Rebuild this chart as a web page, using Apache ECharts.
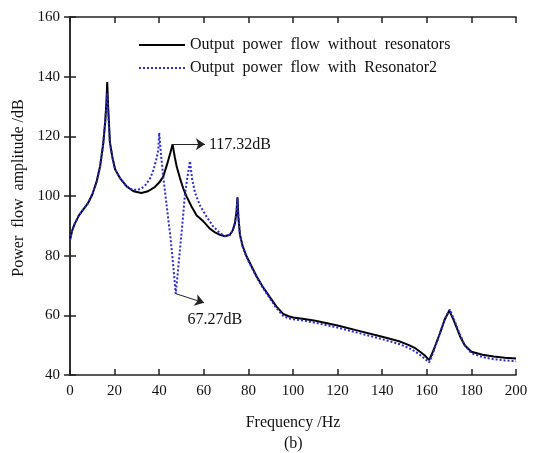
<!DOCTYPE html>
<html style="height: 100%">
   <head>
       <meta charset="utf-8">
   </head>
   <body style="height: 100%; margin: 0; background: #fff">
       <div id="container" style="width: 541px; height: 453px"></div>
       <script type="text/javascript" src="https://cdn.jsdelivr.net/npm/echarts@6/dist/echarts.min.js"></script>
       <script type="text/javascript">
// curve without resonators (black)
var freqA = [0, 1, 2, 4, 6, 8, 10, 12, 13.5, 14.9, 15.8, 16.3, 16.7, 17.1, 17.9, 19, 20.2, 22.4, 25.4, 28.5,
    32, 35, 38, 40, 41.8, 43.5, 45, 46, 47, 47.8, 49.3, 50.8, 52.3, 54.5, 56.8, 59.8, 62.8, 65, 67.3, 69.5,
    71.7, 73, 74, 74.7, 75.1, 75.5, 76.2, 77.5, 79.2, 81.5, 83.7, 86.5, 89.7, 92.5, 95.6, 98, 100, 105, 110, 120,
    130, 140, 148, 152, 155, 157, 159, 161.1, 163, 165.9, 168, 170.1, 172, 174.9, 177, 180, 185, 190, 195, 200];
var powerA = [85.2, 88.5, 90.5, 93.5, 95.5, 97.5, 100.5, 105, 110, 117.5, 125, 131, 138.2, 130, 118, 113, 109, 106, 103.2, 101.6,
    101, 101.6, 103, 104.5, 106.5, 110.5, 114.5, 117.32, 113, 110, 106, 102.5, 99.8, 96.5, 93.5, 91.5, 89, 87.8, 87, 86.5,
    87, 88.5, 91, 95, 99.6, 93, 87, 83, 79.7, 76.3, 73, 69.5, 66, 63, 60.5, 59.7, 59.3, 58.8, 58.2, 56.6,
    54.7, 52.8, 51.2, 50, 48.9, 47.8, 46.6, 45, 48.3, 54, 58.5, 61.6, 58.5, 53, 50, 47.8, 46.8, 46.2, 45.8, 45.5];

// curve with Resonator2 (blue dotted)
var freqB = [0, 1, 2, 4, 6, 8, 10, 12, 13.5, 14.9, 15.8, 16.3, 16.7, 17.1, 17.9, 19, 20.2, 22.4, 25.4, 27.5,
    29.9, 32, 34, 36, 37.4, 38.6, 39.6, 40, 40.8, 41.8, 43, 44.1, 45, 46, 46.8, 47.4, 48.3, 49.3, 50.5, 51.6,
    52.7, 53.8, 54.8, 56.1, 58.5, 61.3, 64, 67.3, 69.5, 71.7, 73, 74, 74.7, 75.1, 75.5, 76.2, 77.5, 79.2, 81.5, 83.7,
    86.5, 89.7, 92.5, 95.6, 98, 100, 105, 110, 120, 130, 140, 148, 152, 155, 157, 159, 161.1, 163, 165.9, 168,
    170.3, 172, 174.9, 177, 180, 185, 190, 195, 200];
var powerB = [85.2, 88.5, 90.5, 93.5, 95.5, 97.5, 100.5, 105, 110, 117.5, 125, 130, 134.5, 128, 118, 113, 109, 106, 103.3, 102.3,
    102, 102.5, 103.8, 106, 108.7, 112, 115.5, 121.2, 114, 106.5, 99, 92, 86.5, 79, 72.5, 67.27, 74, 82, 91.5, 101,
    106.5, 111.7, 105.5, 101, 96.5, 93, 90, 87.5, 86.6, 87, 88.5, 91, 95, 99.3, 93, 87, 82.8, 79.5, 76, 72.8,
    69.2, 65.6, 62.5, 59.8, 59, 58.7, 58.2, 57.5, 55.9, 54, 52, 50.3, 49, 47.8, 46.7, 45.5, 44.2, 47.8, 54, 58.8,
    62, 59, 53.5, 50, 47.3, 46, 45.3, 44.9, 44.6];

var seriesNames = ['Output power flow without resonators', 'Output power flow with Resonator2'];
var peakNote = { text: '117.32dB', from: [46, 117.32], to: [60.5, 117.32] };
var dipNote = { text: '67.27dB', from: [47.4, 67.27], to: [60.1, 64.2], labelAt: [65, 58.6] };

function pairs(xs, ys) {
  return xs.map(function (x, i) { return [x, ys[i]]; });
}

var serif = '"Liberation Serif", "DejaVu Serif", serif';
var dom = document.getElementById("container");
var myChart = echarts.init(dom);

var axisLine = { show: true, lineStyle: { color: '#222', width: 1.5 } };
var tickIn = { show: true, inside: true, length: 6, lineStyle: { color: '#222', width: 1.5 } };

option = {
    backgroundColor: '#fff',
    animation: false,
    grid: { left: 70, right: 25, top: 17, bottom: 78, containLabel: false, outerBoundsMode: 'none' },
    legend: {
        orient: 'vertical',
        left: 133,
        top: 32,
        itemWidth: 46,
        itemHeight: 14,
        itemGap: 7,
        itemStyle: { opacity: 0, borderWidth: 0 },
        textStyle: { fontFamily: serif, fontSize: 16, color: '#111' },
        // wide word spacing like the original figure
        formatter: function (n) { return n.split(' ').join('  '); },
        data: seriesNames
    },
    xAxis: [
      {
        type: 'value', min: 0, max: 200, interval: 20,
        name: 'Frequency /Hz', nameLocation: 'middle', nameGap: 40,
        nameTextStyle: { fontFamily: serif, fontSize: 16, color: '#111' },
        axisLine: axisLine, axisTick: tickIn,
        axisLabel: { fontFamily: serif, fontSize: 15, color: '#111', margin: 9 },
        splitLine: { show: false }
      },
      {
        type: 'value', position: 'top', min: 0, max: 200, interval: 20,
        axisLine: axisLine, axisTick: tickIn,
        axisLabel: { show: false }, splitLine: { show: false }
      }
    ],
    yAxis: [
      {
        type: 'value', min: 40, max: 160, interval: 20,
        name: 'Power  flow  amplitude /dB', nameLocation: 'middle', nameGap: 42,
        nameTextStyle: { fontFamily: serif, fontSize: 16, color: '#111', padding: [0, 0, 0, 16] },
        axisLine: axisLine, axisTick: tickIn,
        axisLabel: { fontFamily: serif, fontSize: 15, color: '#111', margin: 10 },
        splitLine: { show: false }
      },
      {
        type: 'value', position: 'right', min: 40, max: 160, interval: 20,
        axisLine: axisLine, axisTick: tickIn,
        axisLabel: { show: false }, splitLine: { show: false }
      }
    ],
    series: [
      {
        name: seriesNames[0],
        type: 'line',
        data: pairs(freqA, powerA),
        showSymbol: false,
        symbol: 'none',
        lineStyle: { color: '#000', width: 2 },
        itemStyle: { color: '#000' },
        z: 2,
        markLine: {
          silent: true,
          symbol: ['none', 'arrow'],
          symbolSize: 9,
          lineStyle: { color: '#222', width: 1, type: 'solid' },
          label: {
            show: true, position: 'end', distance: 4,
            fontFamily: serif, fontSize: 16, color: '#111',
            formatter: function (p) { return p.name; }
          },
          data: [
            [{ name: peakNote.text, coord: peakNote.from }, { coord: peakNote.to }],
            [{ name: '', coord: dipNote.from }, { coord: dipNote.to }]
          ]
        },
        markPoint: {
          silent: true,
          symbol: 'circle',
          symbolSize: 0,
          label: {
            show: true, position: 'inside',
            fontFamily: serif, fontSize: 16, color: '#111',
            formatter: function (p) { return p.name; }
          },
          data: [{ name: dipNote.text, coord: dipNote.labelAt }]
        }
      },
      {
        name: seriesNames[1],
        type: 'line',
        data: pairs(freqB, powerB),
        showSymbol: false,
        symbol: 'none',
        lineStyle: { color: '#2a2ad8', width: 2, type: 'dotted' },
        itemStyle: { color: '#2a2ad8' },
        z: 3
      }
    ],
    graphic: [
      {
        type: 'text', left: 284, top: 436,
        style: { text: '(b)', font: '16px ' + serif, fill: '#111' }
      }
    ]
};

function initMyChart(){
  if (option && typeof option === "object") {
    myChart.setOption(option, true);
  }
}

initMyChart()
       </script>
   </body>
</html>
